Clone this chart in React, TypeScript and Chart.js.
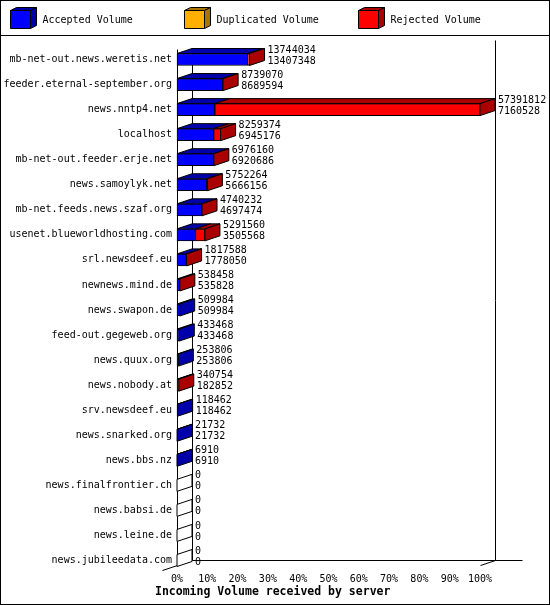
import { useEffect, useRef } from 'react'
import { Chart, registerables } from 'chart.js'

Chart.register(...registerables)

const categories = [
  'mb-net-out.news.weretis.net',
  'feeder.eternal-september.org',
  'news.nntp4.net',
  'localhost',
  'mb-net-out.feeder.erje.net',
  'news.samoylyk.net',
  'mb-net.feeds.news.szaf.org',
  'usenet.blueworldhosting.com',
  'srl.newsdeef.eu',
  'newnews.mind.de',
  'news.swapon.de',
  'feed-out.gegeweb.org',
  'news.quux.org',
  'news.nobody.at',
  'srv.newsdeef.eu',
  'news.snarked.org',
  'news.bbs.nz',
  'news.finalfrontier.ch',
  'news.babsi.de',
  'news.leine.de',
  'news.jubileedata.com',
]

// first number next to each bar: total incoming volume
const offered = [
  13744034, 8739070, 57391812, 8259374, 6976160, 5752264, 4740232, 5291560,
  1817588, 538458, 509984, 433468, 253806, 340754, 118462, 21732, 6910, 0, 0,
  0, 0,
]

// second number: accepted volume
const accepted = [
  13407348, 8689594, 7160528, 6945176, 6920686, 5666156, 4697474, 3505568,
  1778050, 535828, 509984, 433468, 253806, 182852, 118462, 21732, 6910, 0, 0,
  0, 0,
]

const duplicated = [
  0, 0, 0, 0, 0, 0, 0, 0, 0, 0, 0, 0, 0, 0, 0, 0, 0, 0, 0, 0, 0,
]

const seriesLabels = ['Accepted Volume', 'Duplicated Volume', 'Rejected Volume']
const frontColors = ['#0000ff', '#ffb000', '#ff0000']
const darkColors = ['#0000aa', '#aa7400', '#aa0000']

const xTicks = [0, 10, 20, 30, 40, 50, 60, 70, 80, 90, 100]

const maxVolume = Math.max(...offered)
const pct = (v: number) => (v / maxVolume) * 100
const rejected = offered.map((t, i) => t - accepted[i] - duplicated[i])

const FONT = "'DejaVu Sans Mono', monospace"
const DX = 15 // depth of the 3d effect
const DY = 5

const poly = (ctx: CanvasRenderingContext2D, pts: number[][], fill: string) => {
  ctx.beginPath()
  ctx.moveTo(pts[0][0], pts[0][1])
  for (let i = 1; i < pts.length; i++) ctx.lineTo(pts[i][0], pts[i][1])
  ctx.closePath()
  ctx.fillStyle = fill
  ctx.fill()
  ctx.stroke()
}

const line = (ctx: CanvasRenderingContext2D, x1: number, y1: number, x2: number, y2: number) => {
  ctx.beginPath()
  ctx.moveTo(x1, y1)
  ctx.lineTo(x2, y2)
  ctx.stroke()
}

const box3d = {
  id: 'box3d',
  beforeDatasetsDraw(chart: any) {
    const { ctx } = chart
    const { left: L, right: R, top: T, bottom: B } = chart.chartArea
    ctx.save()
    ctx.strokeStyle = '#000'
    ctx.lineWidth = 1
    const l = Math.round(L) + 0.5
    const r = Math.round(R) + 0.5
    const b = Math.round(B) - 0.5
    const t = Math.round(T) - 10.5
    line(ctx, l, t, l, b + DY)
    line(ctx, l + DX, t, l + DX, b)
    line(ctx, r + DX, 40.5, r + DX, b)
    line(ctx, l + DX, b, r + DX + 27, b)
    line(ctx, l - DX, b + 2 * DY, l + DX, b)
    line(ctx, r, b + DY, r + DX, b)
    ctx.restore()
  },
  afterDatasetsDraw(chart: any) {
    const { ctx } = chart
    const metas = chart.data.datasets.map((_: any, i: number) => chart.getDatasetMeta(i))
    ctx.save()
    ctx.strokeStyle = '#000'
    ctx.lineWidth = 1
    categories.forEach((_, j) => {
      const els = metas.map((m: any) => m.data[j].getProps(['x', 'y', 'base', 'height'], true))
      const top = els[0].y - els[0].height / 2
      const bottom = els[0].y + els[0].height / 2
      let lastIdx = -1
      let endX = els[0].base
      els.forEach((el: any, i: number) => {
        const v = chart.data.datasets[i].data[j]
        if (v <= 0) return
        lastIdx = i
        endX = el.x
        poly(ctx, [[el.base, top], [el.x, top], [el.x + DX, top - DY], [el.base + DX, top - DY]], darkColors[i])
      })
      const sideFill = lastIdx >= 0 ? darkColors[lastIdx] : '#fff'
      poly(ctx, [[endX, top], [endX + DX, top - DY], [endX + DX, bottom - DY], [endX, bottom]], sideFill)

      ctx.fillStyle = '#000'
      ctx.font = `10px ${FONT}`
      ctx.textAlign = 'left'
      ctx.textBaseline = 'middle'
      const tx = endX + DX + 3
      ctx.fillText(String(offered[j]), tx, els[0].y - 9.5)
      ctx.fillText(String(accepted[j]), tx, els[0].y + 1.5)
    })
    ctx.restore()
  },
  afterDraw(chart: any) {
    const { ctx, width, height } = chart
    ctx.save()
    ctx.strokeStyle = '#000'
    ctx.lineWidth = 1
    // legend with little cubes
    seriesLabels.forEach((label, i) => {
      const x0 = 10.5 + i * 174
      const y0 = 10.5
      poly(ctx, [[x0, y0], [x0 + 20, y0], [x0 + 20, y0 + 18], [x0, y0 + 18]], frontColors[i])
      poly(ctx, [[x0, y0], [x0 + 6, y0 - 3], [x0 + 26, y0 - 3], [x0 + 20, y0]], darkColors[i])
      poly(ctx, [[x0 + 20, y0], [x0 + 26, y0 - 3], [x0 + 26, y0 + 15], [x0 + 20, y0 + 18]], darkColors[i])
      ctx.fillStyle = '#000'
      ctx.font = `10px ${FONT}`
      ctx.textAlign = 'left'
      ctx.textBaseline = 'middle'
      ctx.fillText(label, x0 + 32, 20)
    })
    line(ctx, 0, 35.5, width, 35.5)

    ctx.fillStyle = '#000'
    ctx.font = `bold 11.5px ${FONT}`
    ctx.textAlign = 'left'
    ctx.textBaseline = 'middle'
    ctx.fillText('Incoming Volume received by server', 155, 592)

    ctx.strokeRect(0.5, 0.5, width - 1, height - 1)
    ctx.restore()
  },
}

const VolumeChart = () => {
  const chartRef = useRef<HTMLCanvasElement | null>(null)

  useEffect(() => {
    const ctx = chartRef.current?.getContext('2d')
    if (!ctx) return

    const series = [accepted, duplicated, rejected]
    const chart = new Chart(ctx, {
      type: 'bar',
      data: {
        labels: categories,
        datasets: series.map((values, i) => ({
          label: seriesLabels[i],
          data: values.map(pct),
          backgroundColor: frontColors[i],
          borderColor: '#000',
          borderWidth: 1,
          borderSkipped: false,
          barThickness: 12,
          clip: false,
        })),
      },
      options: {
        indexAxis: 'y',
        responsive: false,
        animation: false,
        events: [],
        layout: { padding: { top: 59.5, right: 70, bottom: 0, left: 0 } },
        plugins: {
          legend: { display: false },
          tooltip: { enabled: false },
        },
        scales: {
          x: {
            stacked: true,
            min: 0,
            max: 100,
            afterFit: (scale: any) => {
              scale.height = 44.5
            },
            afterBuildTicks: (scale: any) => {
              scale.ticks = xTicks.map((v) => ({ value: v }))
            },
            grid: { display: false, drawTicks: false },
            border: { display: false },
            ticks: {
              callback: (value: any) => `${value}%`,
              font: { family: FONT, size: 10 },
              color: '#000',
              padding: 13,
              maxRotation: 0,
            },
          },
          y: {
            stacked: true,
            offset: false,
            afterFit: (scale: any) => {
              scale.width = 177
            },
            grid: { display: false, drawTicks: false },
            border: { display: false },
            ticks: {
              autoSkip: false,
              font: { family: FONT, size: 10 },
              color: '#000',
              padding: 5,
            },
          },
        },
      },
      plugins: [box3d],
    })

    return () => {
      chart.destroy()
    }
  }, [])

  return <canvas ref={chartRef} width={550} height={605} style={{ width: 550, height: 605 }} />
}

const App = () => (
  <div style={{ position: 'absolute', left: 0, top: 0, width: 550, height: 605, background: '#fff' }}>
    <VolumeChart />
  </div>
)

export default App
